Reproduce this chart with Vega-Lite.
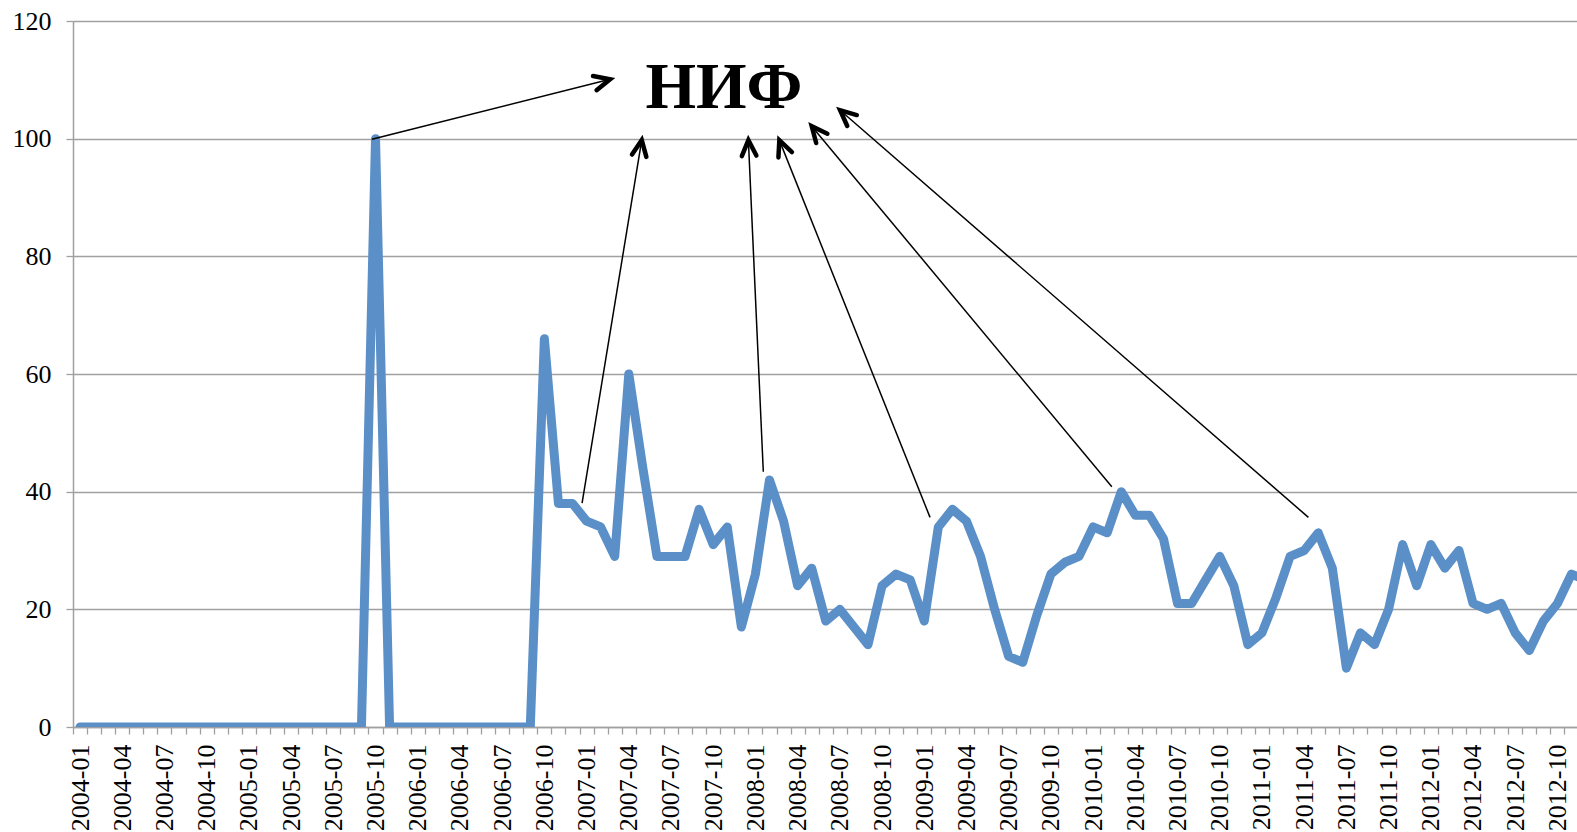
{
  "$schema": "https://vega.github.io/schema/vega-lite/v6.json",
  "autosize": {"type": "none"},
  "padding": {"left": 73, "top": 21, "right": 0, "bottom": 105},
  "width": 1504,
  "height": 706,
  "background": "white",
  "config": {
    "view": {"stroke": null},
    "axis": {
      "labelFont": "Liberation Serif", "labelColor": "black", "labelFontSize": 26,
      "domainColor": "#a0a0a0", "domainWidth": 1.5, "tickColor": "#a0a0a0", "tickWidth": 1.3, "tickSize": 7,
      "gridColor": "#a0a0a0", "gridWidth": 1.5
    }
  },
  "datasets": {
    "series": [
      {"month": "2004-01", "i": 0, "v": 0}, {"month": "2004-02", "i": 1, "v": 0}, {"month": "2004-03", "i": 2, "v": 0},
      {"month": "2004-04", "i": 3, "v": 0}, {"month": "2004-05", "i": 4, "v": 0}, {"month": "2004-06", "i": 5, "v": 0},
      {"month": "2004-07", "i": 6, "v": 0}, {"month": "2004-08", "i": 7, "v": 0}, {"month": "2004-09", "i": 8, "v": 0},
      {"month": "2004-10", "i": 9, "v": 0}, {"month": "2004-11", "i": 10, "v": 0}, {"month": "2004-12", "i": 11, "v": 0},
      {"month": "2005-01", "i": 12, "v": 0}, {"month": "2005-02", "i": 13, "v": 0}, {"month": "2005-03", "i": 14, "v": 0},
      {"month": "2005-04", "i": 15, "v": 0}, {"month": "2005-05", "i": 16, "v": 0}, {"month": "2005-06", "i": 17, "v": 0},
      {"month": "2005-07", "i": 18, "v": 0}, {"month": "2005-08", "i": 19, "v": 0}, {"month": "2005-09", "i": 20, "v": 0},
      {"month": "2005-10", "i": 21, "v": 100}, {"month": "2005-11", "i": 22, "v": 0}, {"month": "2005-12", "i": 23, "v": 0},
      {"month": "2006-01", "i": 24, "v": 0}, {"month": "2006-02", "i": 25, "v": 0}, {"month": "2006-03", "i": 26, "v": 0},
      {"month": "2006-04", "i": 27, "v": 0}, {"month": "2006-05", "i": 28, "v": 0}, {"month": "2006-06", "i": 29, "v": 0},
      {"month": "2006-07", "i": 30, "v": 0}, {"month": "2006-08", "i": 31, "v": 0}, {"month": "2006-09", "i": 32, "v": 0},
      {"month": "2006-10", "i": 33, "v": 66}, {"month": "2006-11", "i": 34, "v": 38}, {"month": "2006-12", "i": 35, "v": 38},
      {"month": "2007-01", "i": 36, "v": 35}, {"month": "2007-02", "i": 37, "v": 34}, {"month": "2007-03", "i": 38, "v": 29},
      {"month": "2007-04", "i": 39, "v": 60}, {"month": "2007-05", "i": 40, "v": 44}, {"month": "2007-06", "i": 41, "v": 29},
      {"month": "2007-07", "i": 42, "v": 29}, {"month": "2007-08", "i": 43, "v": 29}, {"month": "2007-09", "i": 44, "v": 37},
      {"month": "2007-10", "i": 45, "v": 31}, {"month": "2007-11", "i": 46, "v": 34}, {"month": "2007-12", "i": 47, "v": 17},
      {"month": "2008-01", "i": 48, "v": 26}, {"month": "2008-02", "i": 49, "v": 42}, {"month": "2008-03", "i": 50, "v": 35},
      {"month": "2008-04", "i": 51, "v": 24}, {"month": "2008-05", "i": 52, "v": 27}, {"month": "2008-06", "i": 53, "v": 18},
      {"month": "2008-07", "i": 54, "v": 20}, {"month": "2008-08", "i": 55, "v": 17}, {"month": "2008-09", "i": 56, "v": 14},
      {"month": "2008-10", "i": 57, "v": 24}, {"month": "2008-11", "i": 58, "v": 26}, {"month": "2008-12", "i": 59, "v": 25},
      {"month": "2009-01", "i": 60, "v": 18}, {"month": "2009-02", "i": 61, "v": 34}, {"month": "2009-03", "i": 62, "v": 37},
      {"month": "2009-04", "i": 63, "v": 35}, {"month": "2009-05", "i": 64, "v": 29}, {"month": "2009-06", "i": 65, "v": 20},
      {"month": "2009-07", "i": 66, "v": 12}, {"month": "2009-08", "i": 67, "v": 11}, {"month": "2009-09", "i": 68, "v": 19},
      {"month": "2009-10", "i": 69, "v": 26}, {"month": "2009-11", "i": 70, "v": 28}, {"month": "2009-12", "i": 71, "v": 29},
      {"month": "2010-01", "i": 72, "v": 34}, {"month": "2010-02", "i": 73, "v": 33}, {"month": "2010-03", "i": 74, "v": 40},
      {"month": "2010-04", "i": 75, "v": 36}, {"month": "2010-05", "i": 76, "v": 36}, {"month": "2010-06", "i": 77, "v": 32},
      {"month": "2010-07", "i": 78, "v": 21}, {"month": "2010-08", "i": 79, "v": 21}, {"month": "2010-09", "i": 80, "v": 25},
      {"month": "2010-10", "i": 81, "v": 29}, {"month": "2010-11", "i": 82, "v": 24}, {"month": "2010-12", "i": 83, "v": 14},
      {"month": "2011-01", "i": 84, "v": 16}, {"month": "2011-02", "i": 85, "v": 22}, {"month": "2011-03", "i": 86, "v": 29},
      {"month": "2011-04", "i": 87, "v": 30}, {"month": "2011-05", "i": 88, "v": 33}, {"month": "2011-06", "i": 89, "v": 27},
      {"month": "2011-07", "i": 90, "v": 10}, {"month": "2011-08", "i": 91, "v": 16}, {"month": "2011-09", "i": 92, "v": 14},
      {"month": "2011-10", "i": 93, "v": 20}, {"month": "2011-11", "i": 94, "v": 31}, {"month": "2011-12", "i": 95, "v": 24},
      {"month": "2012-01", "i": 96, "v": 31}, {"month": "2012-02", "i": 97, "v": 27}, {"month": "2012-03", "i": 98, "v": 30},
      {"month": "2012-04", "i": 99, "v": 21}, {"month": "2012-05", "i": 100, "v": 20}, {"month": "2012-06", "i": 101, "v": 21},
      {"month": "2012-07", "i": 102, "v": 16}, {"month": "2012-08", "i": 103, "v": 13}, {"month": "2012-09", "i": 104, "v": 18},
      {"month": "2012-10", "i": 105, "v": 21}, {"month": "2012-11", "i": 106, "v": 26}, {"month": "2012-12", "i": 107, "v": 25}
    ],
    "arrows": [
      {"x0": 20.75, "y0": 99.9, "x1": 37.67, "y1": 110.1, "dir": 75.85},
      {"x0": 35.68, "y0": 38.06, "x1": 39.92, "y1": 99.75, "dir": 9.34},
      {"x0": 48.56, "y0": 43.38, "x1": 47.5, "y1": 99.75, "dir": -2.59},
      {"x0": 60.41, "y0": 35.63, "x1": 49.7, "y1": 99.75, "dir": -21.77},
      {"x0": 73.33, "y0": 40.83, "x1": 52.0, "y1": 102.12, "dir": -39.75},
      {"x0": 87.3, "y0": 35.63, "x1": 54.02, "y1": 104.84, "dir": -48.98}
    ],
    "note": [
      {"text": "НИФ", "x": 45.76, "y": 105.13}
    ]
  },
  "layer": [
    {
      "data": {"name": "series"},
      "mark": {"type": "line", "color": "#5B8FC7", "strokeWidth": 9, "strokeJoin": "round", "strokeCap": "round", "clip": true},
      "encoding": {
        "x": {
          "field": "i", "type": "quantitative",
          "scale": {"domain": [-0.5, 106.39], "nice": false, "zero": false},
          "axis": {
            "title": null, "grid": false, "tickCount": 1000,
            "values": [-0.5,0.5,1.5,2.5,3.5,4.5,5.5,6.5,7.5,8.5,9.5,10.5,11.5,12.5,13.5,14.5,15.5,16.5,17.5,18.5,19.5,20.5,21.5,22.5,23.5,24.5,25.5,26.5,27.5,28.5,29.5,30.5,31.5,32.5,33.5,34.5,35.5,36.5,37.5,38.5,39.5,40.5,41.5,42.5,43.5,44.5,45.5,46.5,47.5,48.5,49.5,50.5,51.5,52.5,53.5,54.5,55.5,56.5,57.5,58.5,59.5,60.5,61.5,62.5,63.5,64.5,65.5,66.5,67.5,68.5,69.5,70.5,71.5,72.5,73.5,74.5,75.5,76.5,77.5,78.5,79.5,80.5,81.5,82.5,83.5,84.5,85.5,86.5,87.5,88.5,89.5,90.5,91.5,92.5,93.5,94.5,95.5,96.5,97.5,98.5,99.5,100.5,101.5,102.5,103.5,104.5,105.5,106.5],
            "labelExpr": "((datum.value + 0.5) % 3 == 0) ? (2004 + floor((datum.value + 0.5) / 12)) + '-' + (((datum.value + 0.5) % 12) < 9 ? '0' : '') + (((datum.value + 0.5) % 12) + 1) : ''",
            "labelOffset": 7,
            "labelAngle": -90, "labelPadding": 10,
            "labelFont": "Liberation Serif", "labelFontSize": 26,
            "labelOverlap": false, "labelFlush": false
          }
        },
        "y": {
          "field": "v", "type": "quantitative",
          "scale": {"domain": [0, 120], "nice": false},
          "axis": {
            "title": null, "values": [0, 20, 40, 60, 80, 100, 120],
            "grid": true, "labelPadding": 15, "labelFont": "Liberation Serif", "labelFontSize": 26
          }
        }
      }
    },
    {
      "data": {"name": "arrows"},
      "mark": {"type": "rule", "color": "black", "strokeWidth": 1.5},
      "encoding": {
        "x": {"field": "x0", "type": "quantitative"},
        "y": {"field": "y0", "type": "quantitative"},
        "x2": {"field": "x1"},
        "y2": {"field": "y1"}
      }
    },
    {
      "data": {"name": "arrows"},
      "mark": {"type": "point", "shape": "M -0.42 0.91 L 0 0 L 0.42 0.91", "filled": false, "color": "black", "opacity": 1, "strokeWidth": 4.5, "strokeCap": "round", "size": 1200},
      "encoding": {
        "x": {"field": "x1", "type": "quantitative"},
        "y": {"field": "y1", "type": "quantitative"},
        "angle": {"field": "dir", "type": "quantitative", "scale": null}
      }
    },
    {
      "data": {"name": "note"},
      "mark": {"type": "text", "font": "Liberation Serif", "fontWeight": "bold", "fontSize": 65, "align": "center", "baseline": "alphabetic", "color": "black"},
      "encoding": {
        "text": {"field": "text"},
        "x": {"field": "x", "type": "quantitative"},
        "y": {"field": "y", "type": "quantitative"}
      }
    }
  ]
}
